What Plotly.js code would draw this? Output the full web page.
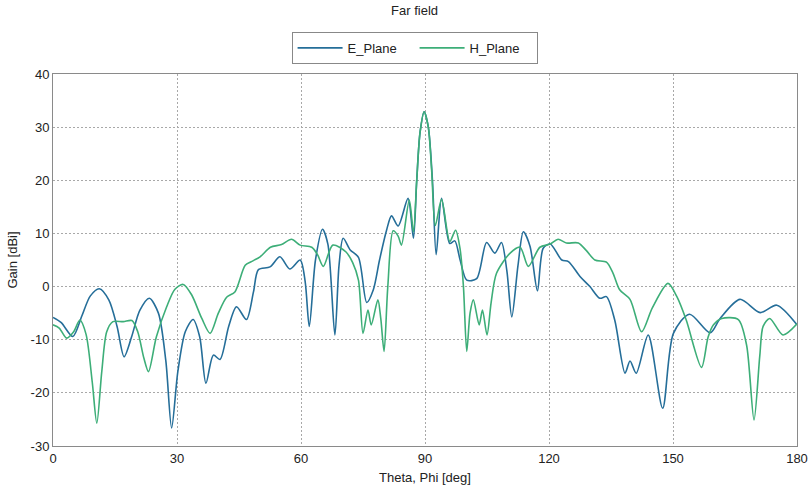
<!DOCTYPE html>
<html>
<head>
<meta charset="utf-8">
<script src="https://cdn.plot.ly/plotly-3.0.1.min.js"></script>
<style>html,body{margin:0;padding:0;background:#fff;}#chart{width:811px;height:491px;}</style>
</head>
<body>
<div id="chart"></div>
<script>
// Theta / Phi angles (deg) and gain (dBi)
const eTheta = [0,2,4.8,7,9,11.2,13.5,15.5,17.2,19,21,23.3,25.5,27.3,28.7,30.2,32,33.9,35.5,37,38.8,40.4,42.5,44.4,46.8,48.5,49.7,52.5,54.9,57.3,59.8,61,62,63.5,65.2,66.5,68.2,69.2,70.2,71.9,73.9,75.9,77.5,79,80.7,81.9,83.5,85.9,87.2,88,88.8,89.8,90.8,91.8,92.7,94,96,97.2,98.5,100.1,102.5,104.9,106.9,108.5,109.8,111,112.5,113.8,115.4,117.2,118.6,120.3,123.1,124.7,127.5,129.9,132.3,133.9,135.9,138.4,139.6,141.1,144,147.5,150.1,154,159,161.4,166.2,171.1,175.1,180];
const eGain = [-5.8,-6.8,-9.4,-5.5,-1.8,-0.4,-2.5,-7.5,-13.2,-9.5,-4.5,-2.2,-5,-14,-26.6,-16,-8.5,-6.2,-9.5,-18.2,-12.9,-13.7,-7.5,-3.8,-6.2,-1,3.2,3.7,5.6,3.3,5.0,1,-7.5,5,10.8,8,-9.1,4,9.1,6.9,5.5,-3.0,-0.6,5,10.6,13.3,11.4,16.6,9.1,20,29,32.9,30,20,6.0,16.6,8.1,8.6,5,1.2,1.5,8.3,6.3,8.3,3,-5.7,4,10.3,7.6,-0.8,7.2,8.0,5.0,4.7,1.9,0,-2.2,-1.9,-6.3,-16.3,-14.0,-16.3,-9.1,-22.9,-8.8,-5.2,-8.7,-6.0,-2.4,-4.9,-3.5,-7.2];

const hTheta = [0,1.5,3.3,5,6.5,8,9.5,10.6,11.8,13,14.5,17,19.1,20.5,22,23.1,25,27.5,29.5,31.5,33.5,36,38,40,42,44,46.5,48,50.1,52.6,55.3,57.7,59.8,62.6,64,65.4,67.7,70.9,72.5,73.9,75,76.2,77,78.6,79.3,80.1,81,82.3,83.5,84.3,86.2,87.2,88,88.8,89.8,90.8,91.6,92.5,94,96,97.4,98.5,99.3,100.1,100.9,101.7,103.1,103.9,105,106,107.3,110.6,113,115,117.8,120.3,122.2,124.2,127.1,129,131.1,133.9,135.5,137.1,139.6,142.4,145,148.8,151,153.2,156.9,158.5,159.8,161.8,165.8,167.8,169.6,171,171.8,173.4,176.6,180];
const hGain = [-7.2,-7.8,-9.7,-8.5,-6.3,-9,-18,-25.7,-16,-8.5,-6.6,-6.6,-6.4,-8.5,-13.5,-16.0,-9.5,-3.8,-0.5,0.4,-1.5,-6,-8.8,-5,-2.0,-1,4.0,4.7,5.6,7.4,7.9,8.9,7.8,7.4,6,3.8,7.8,6.5,4.5,1.2,-8.8,-4.4,-7.2,-2.5,-6,-12.2,0,10.5,9.5,7.8,16.3,10.3,20,29,32.9,30,22,11.5,16.4,8.5,10.6,7,0,-12.2,-5,-2.5,-7.2,-4.4,-9.1,-3,2.5,6.3,7.4,3.8,7.4,8.0,8.9,8.2,8.2,6.8,5.0,4.6,2.5,-0.6,-2.4,-8.5,-4,0.6,-2,-6.3,-15.2,-9.5,-7.2,-6.0,-6.2,-11,-25.1,-13,-7.5,-6.0,-9.1,-7];

const xTicks = [0,30,60,90,120,150,180];
const yTicks = [-30,-20,-10,0,10,20,30,40];

const traces = [
  {x: eTheta, y: eGain, name: 'E_Plane', mode: 'lines', type: 'scatter',
   line: {color: '#256e99', width: 1.6, shape: 'spline', smoothing: 0.8}},
  {x: hTheta, y: hGain, name: 'H_Plane', mode: 'lines', type: 'scatter',
   line: {color: '#3dae78', width: 1.6, shape: 'spline', smoothing: 0.8}}
];

const FONT = 'Liberation Sans, Arial, sans-serif';
const axisCommon = {
  showline: true, linecolor: '#8a8a8a', linewidth: 1, mirror: true,
  showgrid: true, gridcolor: '#a8a8a8', gridwidth: 1, griddash: '2px,2px',
  zeroline: false, ticks: '', tickfont: {family: FONT, size: 13, color: '#222'}
};

const layout = {
  width: 811, height: 491,
  margin: {l: 53, r: 14, t: 74, b: 45},
  paper_bgcolor: '#fff', plot_bgcolor: '#fff',
  font: {family: FONT, size: 13, color: '#222'},
  title: {text: 'Far field', xref: 'paper', x: 0.486, xanchor: 'center', y: 0.988, yanchor: 'top', font: {size: 13}},
  showlegend: true,
  legend: {orientation: 'h', x: 0.486, xanchor: 'center', y: 1.113, yanchor: 'top',
    bordercolor: '#888', borderwidth: 1, bgcolor: '#fff', font: {size: 13},
    itemwidth: 45, entrywidth: 62, entrywidthmode: 'pixels'},
  xaxis: Object.assign({}, axisCommon, {
    range: [0, 180], tickvals: xTicks, ticktext: xTicks.map(String),
    title: {text: 'Theta, Phi [deg]', font: {size: 13}, standoff: 8}
  }),
  yaxis: Object.assign({}, axisCommon, {
    range: [-30, 40], tickvals: yTicks, ticktext: yTicks.map(String),
    title: {text: 'Gain [dBi]', font: {size: 13}, standoff: 10}
  })
};

Plotly.newPlot('chart', traces, layout, {displayModeBar: false, staticPlot: true});
</script>
</body>
</html>
